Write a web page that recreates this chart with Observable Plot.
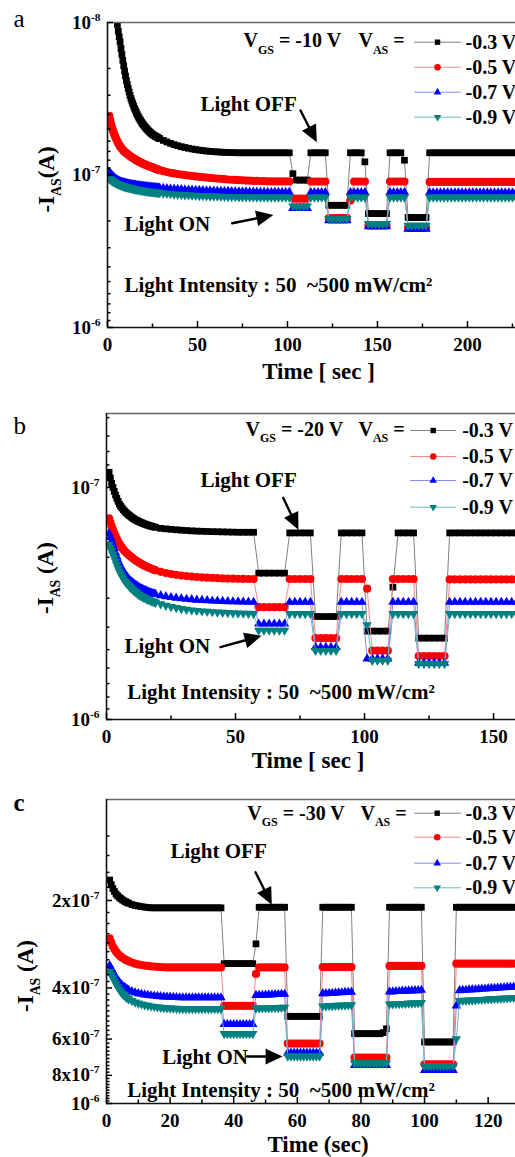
<!DOCTYPE html>
<html>
<head>
<meta charset="utf-8">
<script src="https://cdn.jsdelivr.net/npm/d3@7"></script>
<script src="https://cdn.jsdelivr.net/npm/@observablehq/plot@0.6"></script>
<style>
  html, body { margin: 0; padding: 0; background: #fff; overflow: hidden; }
  #root { width: 515px; height: 1157px; overflow: hidden; position: relative; }
  #root svg { display: block; }
</style>
</head>
<body>
<div id="root"></div>
<script>
// ================= DATA =================
// -I_AS values in nA (1 nA = 1e-9 A)
const seriesNames = ["-0.3 V", "-0.5 V", "-0.7 V", "-0.9 V"];

// ---- panel a : V_GS = -10 V ; sample times: every 0.5 s up to 29 s, then every 2 s
const timeA = [...d3.range(1, 29.01, 0.5), ...d3.range(31, 229.01, 2)];
const currentA_03 = [
  3.2, 3.7, 4.2, 4.8, 5.5, 6.3, 7.1, 8, 9.3, 10.3,
  11.4, 12.4, 13.4, 14.8, 16.2, 17.7, 19.2, 20.8, 22.4, 24,
  25.5, 27, 28.5, 30, 31.4, 32.7, 34, 35.3, 36.5, 37.7,
  38.9, 40.1, 41.2, 42.2, 43.2, 44.2, 45.2, 46.1, 46.9, 47.8,
  48.6, 49.4, 50.1, 50.9, 51.6, 52.3, 52.9, 53.6, 54.2, 54.7,
  55.1, 55.6, 56, 56.5, 56.9, 57.4, 57.8,
  59.3, 60.7, 62, 63.2, 64.2, 65.2, 66, 66.8, 67.5, 68.1,
  68.7, 69.2, 69.6, 70, 70.3, 70.6, 70.8, 71, 71.2, 71.3,
  71.4, 71.5, 71.5, 71.5, 71.5, 71.5, 71.5, 71.5, 71.5, 71.5,
  71.5, 71.5, 71.5, 71.5, 71.5, 71.5, 98, 108, 108, 108,
  108, 71.5, 71.5, 71.5, 71.5, 71.5, 158, 158, 158, 158,
  158, 158, 71.5, 71.5, 71.5, 71.5, 82, 179, 179, 179,
  179, 179, 179, 71.5, 71.5, 71.5, 71.5, 80, 190, 190,
  190, 190, 190, 190, 71.5, 71.5, 71.5, 71.5, 71.5, 71.5,
  71.5, 71.5, 71.5, 71.5, 71.5, 71.5, 71.5, 71.5, 71.5, 71.5,
  71.5, 71.5, 71.5, 71.5, 71.5, 71.5, 71.5, 71.5, 71.5, 71.5
];
const currentA_05 = [
  41, 43.7, 46.4, 48.8, 51, 53, 55, 56.8, 58.5, 60.2,
  61.9, 63.5, 65, 66.2, 67.3, 68.4, 69.5, 70.4, 71.2, 72,
  72.8, 73.6, 74.3, 75.1, 75.8, 76.5, 77.2, 77.9, 78.6, 79.3,
  79.9, 80.6, 81.2, 81.8, 82.4, 82.9, 83.5, 84, 84.6, 85.1,
  85.6, 86.1, 86.6, 87, 87.5, 87.9, 88.4, 88.8, 89.2, 89.7,
  90.2, 90.7, 91.2, 91.7, 92.1, 92.6, 93,
  94.4, 95.6, 96.7, 97.7, 98.6, 99.4, 100.1, 100.8, 101.5, 102.2,
  102.8, 103.4, 104, 104.5, 105, 105.5, 106, 106.5, 107, 107.4,
  107.8, 108.1, 108.4, 108.7, 109, 109.2, 109.4, 109.6, 109.8, 110,
  110.2, 110.2, 110.2, 110.2, 110.2, 110.2, 143, 143, 143, 143,
  143, 110.5, 110.5, 110.5, 110.5, 110.5, 192, 192, 192, 192,
  192, 192, 147, 110.5, 110.5, 110.5, 110.5, 214, 214, 214,
  214, 214, 214, 110.5, 110.5, 110.5, 110.5, 110.5, 222, 222,
  222, 222, 222, 222, 111, 111, 111, 111, 111, 111,
  111, 111, 111, 111, 111, 111, 111, 111, 111, 111,
  111, 111, 111, 111, 111, 111, 111, 111, 111, 111
];
const currentA_07 = [
  96, 97.5, 99, 100.5, 102, 103.4, 104.8, 106.2, 107.5, 108.3,
  109, 109.8, 110.5, 111, 111.5, 112, 112.5, 112.9, 113.3, 113.6,
  114, 114.3, 114.7, 115, 115.3, 115.6, 115.9, 116.1, 116.4, 116.7,
  116.9, 117.2, 117.4, 117.6, 117.9, 118.1, 118.3, 118.5, 118.7, 118.9,
  119.1, 119.3, 119.5, 119.6, 119.8, 120, 120.2, 120.3, 120.5, 120.7,
  120.8, 121, 121.1, 121.3, 121.4, 121.6, 121.7,
  122.2, 122.7, 123.2, 123.6, 124, 124.4, 124.8, 125.1, 125.4, 125.7,
  126, 126.3, 126.6, 126.8, 127, 127.3, 127.5, 127.7, 127.9, 128.1,
  128.3, 128.5, 128.7, 128.9, 129, 129.2, 129.3, 129.4, 129.5, 129.6,
  129.7, 129.7, 129.7, 129.7, 129.7, 129.7, 165, 165, 165, 165,
  165, 130, 130, 130, 130, 130, 199, 199, 199, 199,
  199, 199, 130, 130, 130, 130, 130, 218, 218, 218,
  218, 218, 218, 130, 130, 130, 130, 130, 226, 226,
  226, 226, 226, 226, 130.5, 130.5, 130.5, 130.5, 130.5, 130.5,
  130.5, 130.5, 130.5, 130.5, 130.5, 130.5, 130.5, 130.5, 130.5, 130.5,
  130.5, 130.5, 130.5, 130.5, 130.5, 130.5, 130.5, 130.5, 130.5, 130.5
];
const currentA_09 = [
  106, 107, 108, 109, 110, 110.9, 111.8, 112.7, 113.5, 114.2,
  114.9, 115.6, 116.3, 116.9, 117.4, 118, 118.5, 119, 119.4, 119.9,
  120.3, 120.7, 121.2, 121.6, 122, 122.4, 122.8, 123.1, 123.5, 123.9,
  124.2, 124.6, 124.9, 125.2, 125.5, 125.8, 126.1, 126.4, 126.7, 126.9,
  127.2, 127.5, 127.7, 128, 128.2, 128.4, 128.7, 128.9, 129.1, 129.3,
  129.6, 129.8, 130, 130.2, 130.4, 130.6, 130.8,
  131.6, 132.3, 133, 133.6, 134.2, 134.7, 135.2, 135.6, 136, 136.4,
  136.8, 137.1, 137.4, 137.7, 138, 138.2, 138.4, 138.6, 138.8, 139,
  139.2, 139.3, 139.4, 139.5, 139.6, 139.7, 139.8, 139.8, 139.9, 139.9,
  140, 140, 140, 140, 140, 140, 160, 160, 160, 160,
  160, 140, 140, 140, 140, 140, 194, 194, 194, 194,
  194, 194, 140, 140, 140, 140, 140, 209, 209, 209,
  209, 209, 209, 140, 140, 140, 140, 140, 214, 214,
  214, 214, 214, 214, 140, 140, 140, 140, 140, 140,
  140, 140, 140, 140, 140, 140, 140, 140, 140, 140,
  140, 140, 140, 140, 140, 140, 140, 140, 140, 140
];

// ---- panel b : V_GS = -20 V ; every 0.5 s up to 19 s, then every 2 s
const timeB = [...d3.range(1, 19.01, 0.5), ...d3.range(21, 159.01, 2)];
const currentB_03 = [
  86, 91, 96, 100, 104, 107.8, 111.4, 114.8, 118, 120.4,
  122.6, 124.6, 126.5, 128.1, 129.7, 131.1, 132.5, 133.8, 135.1, 136.3,
  137.5, 138.4, 139.3, 140.2, 141, 141.8, 142.5, 143.3, 144, 144.7,
  145.3, 145.9, 146.5, 147, 147.5, 148, 148.5,
  150, 150.8, 151.5, 152.2, 152.8, 153.3, 153.8, 154.2, 154.5, 154.8,
  155, 155.2, 155.4, 155.6, 155.8, 156, 156, 156, 156, 234,
  234, 234, 234, 234, 234, 157, 157, 157, 157, 157,
  360, 360, 360, 360, 360, 157, 157, 157, 157, 157,
  416, 416, 416, 416, 416, 269, 157, 157, 157, 157,
  446, 446, 446, 446, 446, 446, 157, 157, 157, 157,
  157, 157, 157, 157, 157, 157, 157, 157, 157, 157
];
const currentB_05 = [
  136, 141.5, 147, 152, 157, 162, 166.6, 171, 175, 178.5,
  181.8, 185, 188, 190.4, 192.7, 194.9, 197, 199.1, 201.1, 203.1,
  205, 206.8, 208.6, 210.3, 212, 213.6, 215.1, 216.6, 218, 219.3,
  220.6, 221.8, 223, 224.2, 225.3, 226.4, 227.5,
  231, 233.7, 236, 238, 239.7, 241, 242.2, 243.2, 244, 244.8,
  245.5, 246, 246.5, 247, 247.3, 247.6, 247.8, 248, 248, 328,
  328, 328, 328, 328, 328, 248, 248, 248, 248, 248,
  446, 446, 446, 446, 446, 248, 248, 248, 248, 248,
  273, 505, 505, 505, 505, 248, 248, 248, 248, 248,
  533, 533, 533, 533, 533, 533, 249, 249, 249, 249,
  249, 249, 249, 249, 249, 249, 249, 249, 249, 249
];
const currentB_07 = [
  158, 164, 170, 176.5, 183, 191, 199, 206.5, 214, 219.5,
  225, 230, 235, 239.2, 243.3, 247.2, 251, 253.8, 256.6, 259.3,
  262, 264.3, 266.6, 268.8, 271, 272.8, 274.6, 276.3, 278, 279.5,
  281, 282.5, 284, 285.2, 286.3, 287.4, 288.5,
  292, 295, 297.5, 299.5, 301.2, 302.7, 304, 305.2, 306.3, 307.2,
  308, 308.7, 309.3, 309.9, 310.4, 310.9, 311.3, 311.7, 312, 387,
  387, 387, 387, 387, 387, 312, 312, 312, 312, 312,
  488, 488, 488, 488, 488, 312, 312, 312, 312, 312,
  547, 547, 547, 547, 547, 312, 312, 312, 312, 312,
  571, 571, 571, 571, 571, 571, 312, 312, 312, 312,
  312, 312, 312, 312, 312, 312, 312, 312, 312, 312
];
const currentB_09 = [
  176, 182, 188, 194.5, 201, 208, 215.5, 223, 230, 236,
  241.6, 247, 252, 256.3, 260.3, 264.2, 268, 271.4, 274.7, 277.9,
  281, 283.8, 286.6, 289.3, 292, 294, 296, 298, 300, 301.8,
  303.6, 305.3, 307, 308.5, 310, 311.5, 313,
  318, 322.5, 326.5, 330, 333, 335.5, 337.7, 339.6, 341.2, 342.6,
  343.8, 344.9, 345.9, 346.8, 347.6, 348.3, 349, 349.5, 350, 413,
  413, 413, 413, 413, 413, 350, 350, 350, 350, 350,
  505, 505, 505, 505, 505, 350, 350, 350, 350, 350,
  391, 557, 557, 557, 557, 350, 350, 350, 350, 350,
  575, 575, 575, 575, 575, 575, 350, 350, 350, 350,
  350, 350, 350, 350, 350, 350, 350, 350, 350, 350
];

// ---- panel c : V_GS = -30 V ; every 0.5 s up to 6.5 s, then every 1 s
const timeC = [...d3.range(1, 6.51, 0.5), ...d3.range(7, 129.01, 1)];
const currentC_03 = [
  170, 176.5, 182, 186.3, 190, 192.7, 195, 197.1, 199, 200.6, 202, 203.3,
  204.5, 206.5, 208, 209,
  210, 210.8, 211.4, 212, 212, 212, 212, 212, 212, 212,
  212, 212, 212, 212, 212, 212, 212, 212, 212, 212,
  212, 212, 212, 212, 212, 212, 330, 330, 330, 330,
  330, 330, 330, 330, 330, 330, 282, 211, 211, 211,
  211, 211, 211, 211, 211, 211, 501, 501, 501, 501,
  501, 501, 501, 501, 501, 501, 501, 211, 211, 211,
  211, 211, 211, 211, 211, 211, 211, 575, 575, 575,
  575, 575, 575, 575, 575, 575, 570, 553, 211, 211,
  211, 211, 211, 211, 211, 211, 211, 211, 211, 614,
  614, 614, 614, 614, 614, 614, 614, 614, 614, 211,
  211, 211, 211, 211, 211, 211, 211, 211, 211, 211,
  211, 211, 211, 211, 211, 211, 211, 211, 211
];
const currentC_05 = [
  270, 279.5, 288, 294.3, 300, 304.7, 309, 312.1, 315, 317.6, 320, 322,
  324, 327, 330, 332,
  333.5, 335, 336, 337, 337.8, 338.5, 339, 339.5, 340, 340,
  340, 340, 340, 340, 340, 340, 340, 340, 340, 340,
  340, 340, 340, 340, 340, 340, 461, 461, 461, 461,
  461, 461, 461, 461, 461, 461, 358, 340, 340, 340,
  340, 340, 340, 340, 340, 340, 622, 622, 622, 622,
  622, 622, 622, 622, 622, 622, 622, 339, 339, 339,
  339, 339, 339, 339, 339, 339, 339, 695, 695, 695,
  695, 695, 695, 695, 695, 695, 695, 695, 336, 336,
  336, 336, 336, 336, 336, 336, 336, 336, 336, 733,
  733, 733, 733, 733, 733, 733, 733, 733, 733, 330,
  330, 330, 330, 330, 330, 330, 330, 330, 330, 330,
  330, 330, 330, 330, 330, 330, 330, 330, 330
];
const currentC_07 = [
  335, 343.5, 352, 360.5, 369, 375.8, 382, 387.7, 393, 397.1, 401, 404.1,
  407, 411.5, 415, 418,
  420, 422, 423.5, 425, 426, 427, 428, 428.8, 429.5, 430,
  430.5, 431, 432, 432, 432, 432, 432, 432, 432, 432,
  432, 432, 432, 432, 432, 432, 534, 534, 534, 534,
  534, 534, 534, 534, 534, 534, 424, 424, 423, 423,
  422, 422, 421, 421, 420, 420, 670, 670, 670, 670,
  670, 670, 670, 670, 670, 670, 670, 418, 418, 417,
  417, 416, 415, 415, 414, 414, 413, 738, 738, 738,
  738, 738, 738, 738, 738, 738, 738, 738, 412, 412,
  411, 411, 410, 410, 409, 409, 408, 408, 407, 769,
  769, 769, 769, 769, 769, 769, 769, 769, 769, 461,
  408, 407, 407, 406, 405, 405, 404, 403, 403, 402,
  401, 401, 400, 399, 399, 398, 397, 397, 396
];
const currentC_09 = [
  352, 361, 370, 379, 388, 396.6, 405, 412.2, 419, 424.2, 429, 433.1,
  437, 443, 448, 452,
  455, 458, 460, 462, 464, 465.5, 467, 468, 469, 469.8,
  470.5, 471, 472, 472, 472, 472, 472, 472, 472, 472,
  472, 472, 472, 472, 472, 472, 575, 575, 575, 575,
  575, 575, 575, 575, 575, 575, 470, 470, 469, 469,
  469, 468, 468, 468, 467, 467, 688, 688, 688, 688,
  688, 688, 688, 688, 688, 688, 688, 462, 462, 461,
  461, 460, 460, 459, 459, 458, 458, 727, 727, 727,
  727, 727, 727, 727, 727, 727, 727, 727, 455, 455,
  454, 454, 453, 453, 452, 452, 451, 451, 450, 743,
  743, 743, 743, 743, 743, 743, 743, 743, 743, 599,
  443, 442, 442, 441, 441, 440, 439, 439, 438, 437,
  437, 436, 436, 435, 434, 434, 433, 432, 432
];

// ---- ticks and labels
const xTicksA = [0, 50, 100, 150, 200];
const xMinorA = [25, 75, 125, 175, 225];
const yTicksA = [10, 100, 1000];
const yTickLabelsA = ["10^{-8}", "10^{-7}", "10^{-6}"];
const yMinorA = [20, 30, 40, 50, 60, 70, 80, 90, 200, 300, 400, 500, 600, 700, 800, 900];

const xTicksB = [0, 50, 100, 150];
const xMinorB = [25, 75, 125];
const yTicksB = [100, 1000];
const yTickLabelsB = ["10^{-7}", "10^{-6}"];
const yMinorB = [50, 60, 70, 80, 90, 200, 300, 400, 500, 600, 700, 800, 900];

const xTicksC = [0, 20, 40, 60, 80, 100, 120];
const xMinorC = [10, 30, 50, 70, 90, 110];
const yTicksC = [200, 400, 600, 800, 1000];
const yTickLabelsC = ["2x10^{-7}", "4x10^{-7}", "6x10^{-7}", "8x10^{-7}", "10^{-6}"];
const yMinorC = [120, 140, 160, 180, 220, 240, 260, 280, 300, 320, 340, 360, 380,
  420, 440, 460, 480, 500, 520, 540, 560, 580, 620, 640, 660, 680, 700, 720, 740, 760, 780,
  820, 840, 860, 880, 900, 920, 940, 960, 980];

const gateLabels = ["V_{GS} = -10 V", "V_{GS} = -20 V", "V_{GS} = -30 V"];
const xTitles = ["Time [ sec ]", "Time [ sec ]", "Time (sec)"];
const yTitles = ["-I_{AS}(A)", "-I_{AS} (A)", "-I_{AS} (A)"];
const intensityLabel = "Light Intensity : 50  ~500 mW/cm²";

// ================= STYLE =================
const FONT = '"Liberation Serif", "Times New Roman", Times, serif';
const markColors = ["#000000", "#ff0000", "#0000ff", "#008080"];
const lineColors = ["#808080", "#ff8a8a", "#8a8aff", "#6fb8b8"];
const markSymbols = ["square", "circle", "triangle", "triangle"];
const markRotate = [0, 0, 0, 180];
const markR = [3.8, 4.1, 3.5, 3.5];

const lineShape = { draw(ctx, l) { ctx.moveTo(0, 0); ctx.lineTo(0, -l); } };
const arrowShape = { draw(ctx, l) {
  const h = 13, w = 6;
  ctx.moveTo(0, 0); ctx.lineTo(0, -l + h);
  ctx.moveTo(-w, -l + h); ctx.lineTo(0, -l); ctx.lineTo(w, -l + h); ctx.closePath();
} };

const panels = [
  { letter: "a", letterWeight: "normal", pageTop: 0, height: 385, frameLeft: 107, frameTop: 22, frameBottom: 327,
    xMax: 226.7, yDomain: [10, 1000], time: timeA,
    series: [currentA_03, currentA_05, currentA_07, currentA_09],
    xTicks: xTicksA, xMinor: xMinorA, yTicks: yTicksA, yLabels: yTickLabelsA, yMinor: yMinorA,
    gate: gateLabels[0], xTitle: xTitles[0], yTitle: yTitles[0],
    lay: { letter: [13, 26], vgs: [243, 46.7], vas: [358, 46.7],
      rows: [41.7, 66.7, 91.7, 116.7], line: [414, 460], marker: 437, text: 465,
      off: [200, 110], offArrow: [300, 110, 315, 139.3],
      on: [124, 230.7], onArrow: [231.7, 222.7, 270, 215],
      intensity: [124, 291.7], xTitle: [318, 378], yTitle: [53, 179] } },
  { letter: "b", letterWeight: "normal", pageTop: 385, height: 389, frameLeft: 106, frameTop: 413, frameBottom: 719,
    xMax: 158.5, yDomain: [48, 1000], time: timeB,
    series: [currentB_03, currentB_05, currentB_07, currentB_09],
    xTicks: xTicksB, xMinor: xMinorB, yTicks: yTicksB, yLabels: yTickLabelsB, yMinor: yMinorB,
    gate: gateLabels[1], xTitle: xTitles[1], yTitle: yTitles[1],
    lay: { letter: [13, 433], vgs: [245, 435], vas: [358, 435],
      rows: [430, 456, 480, 506.7], line: [410, 455], marker: 432.7, text: 461.7,
      off: [200, 486.7], offArrow: [282.7, 497.3, 296.7, 526.7],
      on: [124, 652.7], onArrow: [220, 646.7, 258.3, 636],
      intensity: [126.7, 698.3], xTitle: [307.5, 767], yTitle: [52, 577.5] } },
  { letter: "c", letterWeight: "bold", pageTop: 774, height: 383, frameLeft: 106, frameTop: 799, frameBottom: 1103,
    xMax: 128.6, yDomain: [89.8, 1000], time: timeC,
    series: [currentC_03, currentC_05, currentC_07, currentC_09],
    xTicks: xTicksC, xMinor: xMinorC, yTicks: yTicksC, yLabels: yTickLabelsC, yMinor: yMinorC,
    gate: gateLabels[2], xTitle: xTitles[2], yTitle: yTitles[2],
    lay: { letter: [13, 810], vgs: [246.7, 819.3], vas: [360, 819.3],
      rows: [812.7, 836.7, 862.7, 887.3], line: [414, 460], marker: 436.7, text: 465,
      off: [170, 857.3], offArrow: [255, 871.7, 270, 901.7],
      on: [161.7, 1063.3], onArrow: [246.7, 1056, 279.3, 1056],
      intensity: [126.7, 1096], xTitle: [317.5, 1151], yTitle: [32, 975.5] } }
];

function richText(svg) {
  const NS = "http://www.w3.org/2000/svg";
  svg.querySelectorAll("text").forEach(node => {
    const s = node.textContent;
    if (!/[_^]\{/.test(s)) return;
    const fs = parseFloat(getComputedStyle(node).fontSize) || 16;
    const parts = s.split(/([_^]\{[^}]*\})/).filter(p => p !== "");
    while (node.firstChild) node.removeChild(node.firstChild);
    let level = 0;
    parts.forEach(p => {
      const m = p.match(/^([_^])\{([^}]*)\}$/);
      const span = document.createElementNS(NS, "tspan");
      const target = m ? (m[1] === "_" ? 0.32 * fs : -0.42 * fs) : 0;
      if (target !== level) span.setAttribute("dy", (target - level).toFixed(2));
      level = target;
      if (m) span.setAttribute("font-size", (0.6 * fs).toFixed(1));
      span.textContent = m ? m[2] : p;
      node.appendChild(span);
    });
  });
}

function buildPanel(cfg) {
  const L = cfg.frameLeft, T = cfg.frameTop, lay = cfg.lay;
  const rows = [];
  cfg.series.forEach((vals, si) => vals.forEach((v, i) => {
    if (i < cfg.time.length) rows.push({ t: cfg.time[i], v, s: si });
  }));
  const at = (px, py) => ({ x: null, y: null, frameAnchor: "top-left", dx: px - L, dy: py - T });
  const txt = (s, p, o = {}) => Plot.text([s], { ...at(p[0], p[1]), text: d => d, textAnchor: "start",
    lineAnchor: "bottom", fill: "black", fontSize: 21, ...o });
  const arrow = a => {
    const dx = a[2] - a[0], dy = a[3] - a[1];
    return Plot.vector([0], { ...at(a[0], a[1]), length: Math.hypot(dx, dy),
      rotate: Math.atan2(dx, -dy) * 180 / Math.PI, anchor: "start", shape: arrowShape,
      stroke: "black", fill: "black", strokeWidth: 2.4, strokeLinejoin: "miter" });
  };
  const marks = [];
  cfg.series.forEach((_, si) => {
    const d = rows.filter(r => r.s === si);
    marks.push(Plot.line(d, { x: "t", y: "v", stroke: lineColors[si], strokeWidth: 1, clip: true }));
    marks.push(Plot.dot(d, { x: "t", y: "v", symbol: markSymbols[si], r: markR[si], fill: markColors[si],
      rotate: markRotate[si], clip: true }));
  });
  // frame lines & axes
  marks.push(Plot.ruleY([cfg.yDomain[0]], { stroke: "#666", strokeWidth: 1.5 }));
  marks.push(Plot.ruleY([cfg.yDomain[1]], { stroke: "#111", strokeWidth: 1.6 }));
  marks.push(Plot.ruleX([0], { stroke: "#111", strokeWidth: 1.6 }));
  marks.push(Plot.axisX({ ticks: cfg.xTicks, tickSize: -6, tickPadding: 16, tickFormat: d => String(d),
    strokeWidth: 1.5, fontSize: 19 }));
  marks.push(Plot.axisX({ ticks: cfg.xMinor, tickSize: -3.5, tickFormat: () => "", strokeWidth: 1.5 }));
  marks.push(Plot.axisY({ ticks: cfg.yTicks, tickSize: -6, tickPadding: 13,
    tickFormat: d => cfg.yLabels[cfg.yTicks.indexOf(d)], strokeWidth: 1.5, fontSize: 19 }));
  marks.push(Plot.axisY({ ticks: cfg.yMinor, tickSize: -3.5, tickFormat: () => "", strokeWidth: 1.5 }));
  // legend
  marks.push(txt(cfg.gate, lay.vgs, { fontSize: 20 }));
  marks.push(txt("V_{AS} =", lay.vas, { fontSize: 20 }));
  seriesNames.forEach((name, si) => {
    const yRow = lay.rows[si];
    marks.push(Plot.vector([0], { ...at(lay.line[0], yRow), length: lay.line[1] - lay.line[0], rotate: 90,
      anchor: "start", shape: lineShape, stroke: lineColors[si], strokeWidth: 1 }));
    marks.push(Plot.dot([0], { ...at(lay.marker, yRow), symbol: markSymbols[si], r: markR[si] * 0.8,
      fill: markColors[si], rotate: markRotate[si] }));
    marks.push(txt(name, [lay.text, yRow], { fontSize: 20, lineAnchor: "middle" }));
  });
  // annotations
  marks.push(txt("Light OFF", lay.off));
  marks.push(arrow(lay.offArrow));
  marks.push(txt("Light ON", lay.on));
  marks.push(arrow(lay.onArrow));
  marks.push(txt(intensityLabel, lay.intensity));
  marks.push(txt(cfg.xTitle, lay.xTitle, { fontSize: 23, textAnchor: "middle" }));
  marks.push(txt(cfg.yTitle, lay.yTitle, { fontSize: 23, textAnchor: "middle", rotate: -90 }));
  marks.push(txt(cfg.letter, lay.letter, { fontSize: 25, fontWeight: cfg.letterWeight }));

  return Plot.plot({
    width: 515, height: cfg.height,
    marginLeft: L, marginRight: 0,
    marginTop: T - cfg.pageTop, marginBottom: cfg.pageTop + cfg.height - cfg.frameBottom,
    x: { domain: [0, cfg.xMax], label: null },
    y: { type: "log", domain: cfg.yDomain, reverse: true, label: null },
    style: { background: "white", color: "black", fontFamily: FONT, fontSize: "19px", fontWeight: "bold" },
    marks
  });
}

const root = document.getElementById("root");
panels.forEach(cfg => {
  const svg = buildPanel(cfg);
  root.appendChild(svg);
  richText(svg);
});
</script>
</body>
</html>
